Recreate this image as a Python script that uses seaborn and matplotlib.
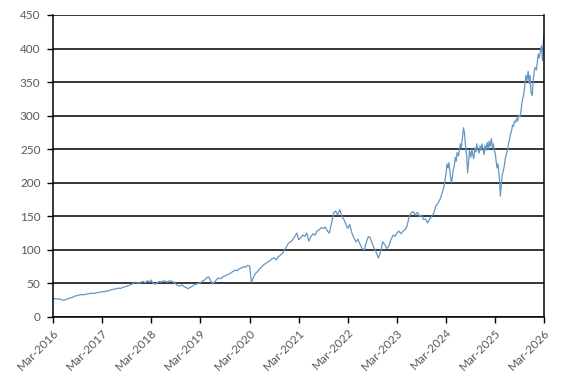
import numpy as np
import pandas as pd
import matplotlib
matplotlib.use("Agg")
import matplotlib.pyplot as plt
import matplotlib.dates as mdates
import seaborn as sns

# ================= DATA =================
# semi-monthly closes (1st and 15th), Mar-2016 .. Feb-2024
y2016 = [27, 27.5, 26.5, 27, 26, 25, 25.5, 27, 28, 29, 30, 31.5,
         32, 33, 33.5, 33, 34, 34.5, 35, 35.5, 35, 36, 36.5, 37]
y2017 = [37.5, 38, 38.5, 39, 40, 41, 41.5, 42, 43, 42.5, 44, 45,
         46, 47, 48, 50, 52, 51, 50, 52, 53, 51, 54, 52]
y2018 = [55, 50, 49, 51, 53, 52, 54, 53, 52, 54, 53, 52,
         49, 47, 46, 48, 45, 44, 42, 44, 46, 48, 49, 50]
y2019 = [51, 53, 55, 58, 60, 55, 49, 52, 56, 58, 57, 60,
         61, 63, 64, 66, 68, 70, 69, 72, 73, 75, 74, 77]
y2020 = [76, 52, 60, 65, 68, 72, 75, 78, 80, 82, 84, 87,
         88, 85, 90, 92, 95, 100, 105, 110, 112, 115, 120, 125]
y2021 = [115, 118, 122, 120, 125, 113, 120, 124, 122, 128, 130, 133,
         132, 134, 128, 125, 140, 155, 158, 152, 160, 150, 145, 138]
y2022 = [132, 138, 125, 118, 112, 116, 108, 102, 100, 110, 120, 118,
         108, 102, 95, 88, 98, 112, 108, 102, 106, 115, 122, 120]
y2023 = [125, 128, 124, 128, 130, 135, 150, 155, 157, 152, 156, 150,
         152, 145, 146, 140, 146, 150, 155, 165, 170, 175, 185, 195]

# weekly closes (1st, 8th, 15th, 22nd), Mar-2024 .. Feb-2026, plus Mar-2026
y2024 = [215, 228, 222, 230, 212, 200, 205, 218, 225, 238, 232, 245,
         240, 250, 258, 252, 268, 282, 275, 258, 240, 215, 232, 248,
         238, 250, 242, 236, 252, 246, 258, 250, 244, 255, 248, 258,
         250, 242, 256, 248, 260, 250, 262, 254, 266, 252, 258, 248]
y2025 = [244, 232, 222, 228, 208, 180, 195, 212, 218, 226, 236, 242,
         250, 258, 264, 272, 278, 286, 284, 292, 290, 296, 292, 300,
         298, 306, 318, 326, 334, 346, 360, 352, 366, 348, 360, 335,
         330, 352, 364, 372, 368, 380, 392, 386, 398, 404, 382, 412,
         420]

semi_values = y2016 + y2017 + y2018 + y2019 + y2020 + y2021 + y2022 + y2023
weekly_values = y2024 + y2025

semi_dates = []
for m in pd.date_range("2016-03-01", "2024-02-01", freq="MS"):
    semi_dates += [m, m + pd.Timedelta(days=14)]

weekly_dates = []
for m in pd.date_range("2024-03-01", "2026-02-01", freq="MS"):
    weekly_dates += [m + pd.Timedelta(days=d) for d in (0, 7, 14, 21)]
weekly_dates.append(pd.Timestamp("2026-03-01"))

df = pd.DataFrame({"date": semi_dates + weekly_dates,
                   "price": semi_values + weekly_values})

# ================= PLOT =================
sns.set_theme(style="white")
plt.rcParams["font.family"] = ["Lato", "DejaVu Sans"]

fig = plt.figure(figsize=(5.72, 3.84), dpi=100)
ax = fig.add_axes([0.0927, 0.1745, 0.8589, 0.7865])

sns.lineplot(data=df, x="date", y="price", ax=ax, color="#6496C6", linewidth=0.9)

ax.set_xlim(pd.Timestamp("2016-03-01"), pd.Timestamp("2026-03-01"))
ax.set_ylim(0, 450)
ax.set_yticks(np.arange(0, 451, 50))
ax.set_xticks(pd.date_range("2016-03-01", "2026-03-01", freq="12MS"))
ax.xaxis.set_major_formatter(mdates.DateFormatter("%b-%Y"))

ax.yaxis.grid(True, color="black", linewidth=1.1)
ax.xaxis.grid(False)
ax.set_axisbelow(True)

for side in ["left", "bottom", "right"]:
    ax.spines[side].set_visible(True)
    ax.spines[side].set_color("black")
    ax.spines[side].set_linewidth(1.1)
ax.spines["top"].set_visible(False)

ax.tick_params(axis="both", which="major", direction="out", length=4, width=1.0,
               color="black", labelsize=8.5, labelcolor="#595959", pad=3,
               left=True, bottom=True)
ax.tick_params(axis="y", pad=5)
plt.setp(ax.get_xticklabels(), rotation=45, ha="right", rotation_mode="anchor")

ax.set_xlabel("")
ax.set_ylabel("")

fig.savefig("out.png", dpi=100)
